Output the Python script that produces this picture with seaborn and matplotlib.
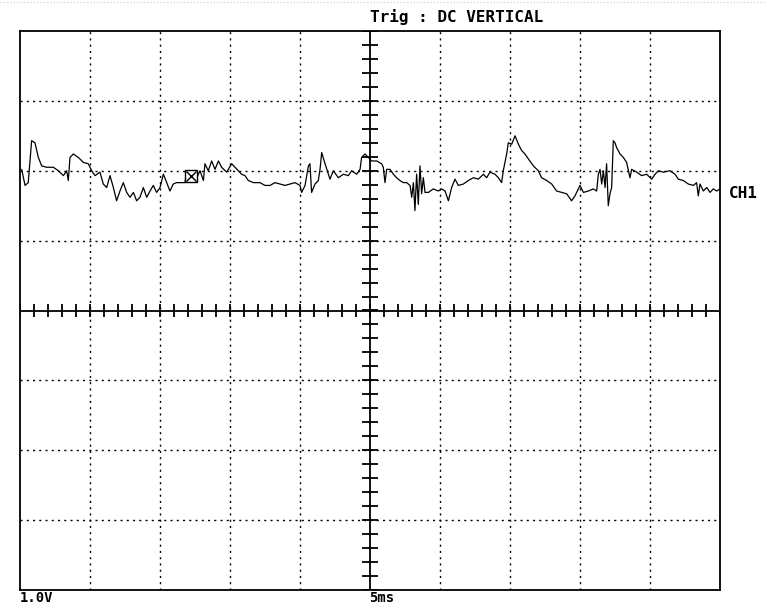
import numpy as np
import pandas as pd
import matplotlib
matplotlib.use("Agg")
import matplotlib.pyplot as plt
from matplotlib.lines import Line2D
import seaborn as sns

# time in ms (5 ms/div, 10 div), voltage in V (1 V/div, 8 div)
time_ms = [0.12, 0.36, 0.59, 0.83, 1.07, 1.31, 1.55, 1.90, 2.38, 2.74, 3.10, 3.33, 3.45, 3.57, 3.81,
           4.17, 4.52, 4.88, 5.12, 5.36, 5.71, 5.95, 6.19, 6.43, 6.67, 6.90, 7.14, 7.38, 7.62, 7.86,
           8.10, 8.33, 8.57, 8.81, 9.05, 9.29, 9.52, 9.76, 10.00, 10.24, 10.48, 10.71, 10.95, 11.19,
           11.79, 11.90, 12.26, 12.62, 12.86, 13.10, 13.21, 13.45, 13.69, 13.93, 14.17, 14.40, 14.76,
           15.12, 15.36, 15.60, 15.83, 16.07, 16.31, 16.67, 17.14, 17.50, 17.86, 18.21, 18.57, 18.93,
           19.29, 19.64, 20.00, 20.12, 20.36, 20.60, 20.71, 20.83, 21.07, 21.31, 21.43, 21.55, 21.79,
           22.14, 22.38, 22.74, 23.10, 23.45, 23.69, 24.05, 24.29, 24.40, 24.64, 24.88, 25.12, 25.48,
           25.83, 25.95, 26.07, 26.19, 26.43, 26.67, 26.90, 27.14, 27.38, 27.62, 27.86, 27.98, 28.10,
           28.21, 28.33, 28.45, 28.57, 28.69, 28.81, 28.93, 29.17, 29.52, 29.88, 30.12, 30.36, 30.60,
           30.83, 31.07, 31.31, 31.67, 32.02, 32.38, 32.74, 33.10, 33.33, 33.57, 33.93, 34.17, 34.40,
           34.52, 34.76, 34.88, 35.12, 35.36, 35.60, 35.83, 36.07, 36.31, 36.67, 37.02, 37.26, 37.62,
           37.98, 38.33, 38.69, 39.05, 39.40, 39.64, 40.00, 40.24, 40.60, 40.95, 41.19, 41.31, 41.43,
           41.55, 41.67, 41.79, 41.90, 42.02, 42.14, 42.26, 42.38, 42.50, 42.62, 42.86, 43.10, 43.33,
           43.57, 43.69, 44.05, 44.40, 44.76, 45.12, 45.36, 45.60, 45.95, 46.43, 46.79, 47.02, 47.38,
           47.74, 48.10, 48.33, 48.45, 48.57, 48.81, 49.05, 49.29, 49.52, 49.76, 50.00]
volts = [2.02, 1.79, 1.83, 2.43, 2.40, 2.19, 2.07, 2.05, 2.05, 2.00, 1.93, 2.00, 1.86, 2.19, 2.24,
         2.19, 2.12, 2.10, 2.00, 1.93, 1.98, 1.81, 1.76, 1.93, 1.76, 1.57, 1.71, 1.83, 1.69, 1.62,
         1.69, 1.57, 1.62, 1.76, 1.62, 1.71, 1.79, 1.69, 1.76, 1.95, 1.83, 1.71, 1.81, 1.83,
         1.83, 2.00, 1.88, 1.90, 2.00, 1.86, 2.10, 2.00, 2.14, 2.02, 2.14, 2.05, 1.98,
         2.10, 2.05, 2.00, 1.95, 1.93, 1.86, 1.83, 1.83, 1.79, 1.79, 1.83, 1.81, 1.79,
         1.81, 1.83, 1.79, 1.69, 1.79, 2.07, 2.10, 1.69, 1.81, 1.86, 2.02, 2.26, 2.10,
         1.88, 2.00, 1.90, 1.95, 1.93, 2.00, 1.95, 2.02, 2.19, 2.24, 2.19, 2.14, 2.14,
         2.10, 2.05, 1.83, 2.02, 2.02, 1.95, 1.90, 1.86, 1.83, 1.83, 1.79, 1.62, 1.83,
         1.43, 1.95, 1.52, 2.07, 1.67, 1.90, 1.69, 1.69, 1.74, 1.71, 1.74, 1.71, 1.57,
         1.76, 1.88, 1.79, 1.81, 1.86, 1.90, 1.88, 1.95, 1.90, 1.98, 1.95, 1.90, 1.83,
         2.00, 2.24, 2.40, 2.38, 2.50, 2.38, 2.29, 2.24, 2.17, 2.07, 2.00, 1.90, 1.86,
         1.81, 1.71, 1.69, 1.67, 1.57, 1.64, 1.79, 1.69, 1.71, 1.74, 1.71, 1.95, 2.02,
         1.81, 2.00, 1.76, 2.10, 1.50, 1.67, 1.76, 2.43, 2.40, 2.33, 2.24, 2.19, 2.12,
         1.90, 2.02, 1.98, 1.93, 1.95, 1.88, 1.95, 2.00, 1.98, 2.00, 1.95, 1.88, 1.86,
         1.81, 1.79, 1.83, 1.64, 1.81, 1.71, 1.76, 1.69, 1.74, 1.71, 1.74]

trigger_t = [12.2]
trigger_v = [1.93]

title_text = "Trig : DC VERTICAL"
channel_label = "CH1"
volt_scale_label = "1.0V"
time_scale_label = "5ms"

sns.set_theme(style="white")
plt.rcParams['font.family'] = ['DejaVu Sans Mono', 'DejaVu Sans']

W, H = 766, 605
fig = plt.figure(figsize=(W / 100, H / 100), dpi=100)
ax = fig.add_axes([20 / W, (H - 590) / H, 700 / W, 559 / H])

df = pd.DataFrame({"t": time_ms, "v": volts})
sns.lineplot(data=df, x="t", y="v", ax=ax, color="black", linewidth=0.9,
             estimator=None, sort=False)

ax.set_xlim(0, 50)
ax.set_ylim(-4, 4)
ax.set_xticks([])
ax.set_yticks([])
ax.set_xlabel("")
ax.set_ylabel("")
for s in ax.spines.values():
    s.set_color("black")
    s.set_linewidth(1.3)

# dotted division grid
for xg in np.arange(5, 50, 5):
    if xg != 25:
        ax.axvline(xg, color="black", lw=1.0, ls=(0, (1.5, 3)), zorder=1)
for yg in np.arange(-3, 4, 1):
    if yg != 0:
        ax.axhline(yg, color="black", lw=1.0, ls=(0, (1.5, 3)), zorder=1)

# centre axes with minor ticks
ax.axhline(0, color="black", lw=1.3, zorder=2)
ax.axvline(25, color="black", lw=1.3, zorder=2)
xt = np.arange(0, 50.01, 1.0)
ax.vlines(xt, -0.09, 0.09, color="black", lw=1.3, zorder=2)
yt = np.arange(-4, 4.01, 0.2)
ax.hlines(yt, 25 - 0.54, 25 + 0.54, color="black", lw=1.3, zorder=2)

# trigger marker
ax.plot(trigger_t, trigger_v, marker="s", markersize=9, markerfacecolor="white",
        markeredgecolor="black", markeredgewidth=1.0, ls="none", zorder=4)
ax.plot(trigger_t, trigger_v, marker="x", markersize=7, color="black",
        markeredgewidth=1.0, ls="none", zorder=5)

# faint dotted border line at top of screenshot
fig.add_artist(Line2D([0, 1], [1 - 2 / H, 1 - 2 / H], transform=fig.transFigure,
                      color="#b8c8e8", lw=0.8, ls=(0, (1, 2))))

fig.text(370 / W, 1 - 17 / H, title_text, fontsize=11.5, fontweight="bold",
         ha="left", va="center", color="black")
fig.text(729 / W, 1 - 193 / H, channel_label, fontsize=11.5, fontweight="bold",
         ha="left", va="center", color="black")
fig.text(20 / W, 1 - 604.5 / H, volt_scale_label, fontsize=10, fontweight="bold",
         ha="left", va="bottom", color="black")
fig.text(369 / W, 1 - 604.5 / H, time_scale_label, fontsize=10, fontweight="bold",
         ha="left", va="bottom", color="black")

fig.savefig("out.png", dpi=100, facecolor="white")
